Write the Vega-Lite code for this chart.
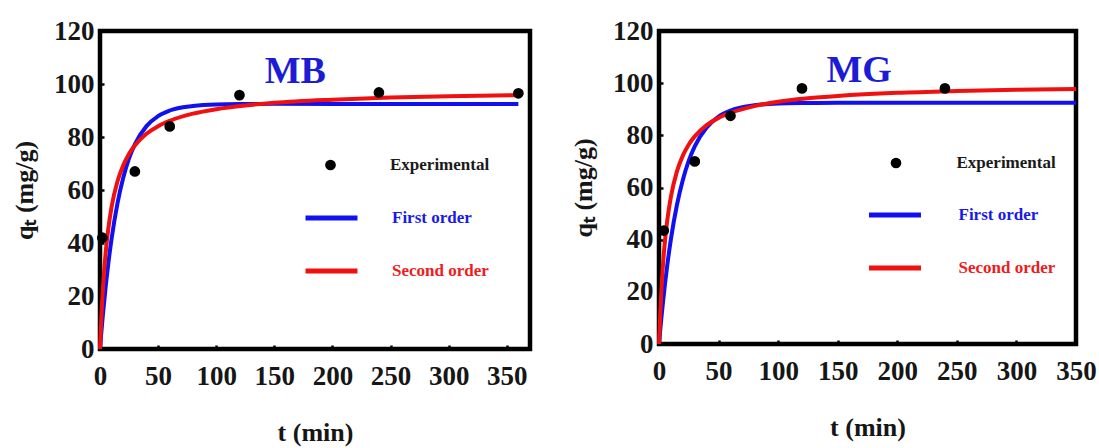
{
  "$schema": "https://vega.github.io/schema/vega-lite/v6.json",
  "background": "white",
  "padding": {"left": 9, "top": 14, "right": 5, "bottom": 0},
  "spacing": 35,
  "datasets": {
    "mb_exp": [
      {"t": 2, "q": 42, "series": "Experimental"},
      {"t": 30, "q": 67, "series": "Experimental"},
      {"t": 60, "q": 84, "series": "Experimental"},
      {"t": 120, "q": 95.8, "series": "Experimental"},
      {"t": 240, "q": 96.8, "series": "Experimental"},
      {"t": 360, "q": 96.5, "series": "Experimental"}
    ],
    "mb_fit": [
      {"t": 0, "q": 0, "series": "First order"},
      {"t": 1, "q": 5.4, "series": "First order"},
      {"t": 2, "q": 10.5, "series": "First order"},
      {"t": 3, "q": 15.2, "series": "First order"},
      {"t": 5, "q": 24.0, "series": "First order"},
      {"t": 7, "q": 31.7, "series": "First order"},
      {"t": 10, "q": 41.7, "series": "First order"},
      {"t": 15, "q": 54.9, "series": "First order"},
      {"t": 20, "q": 64.6, "series": "First order"},
      {"t": 25, "q": 71.9, "series": "First order"},
      {"t": 30, "q": 77.2, "series": "First order"},
      {"t": 40, "q": 84.1, "series": "First order"},
      {"t": 50, "q": 87.9, "series": "First order"},
      {"t": 60, "q": 90.0, "series": "First order"},
      {"t": 80, "q": 91.7, "series": "First order"},
      {"t": 100, "q": 92.3, "series": "First order"},
      {"t": 125, "q": 92.45, "series": "First order"},
      {"t": 150, "q": 92.5, "series": "First order"},
      {"t": 200, "q": 92.5, "series": "First order"},
      {"t": 250, "q": 92.5, "series": "First order"},
      {"t": 300, "q": 92.5, "series": "First order"},
      {"t": 360, "q": 92.5, "series": "First order"},
      {"t": 0, "q": 0, "series": "Second order"},
      {"t": 1, "q": 10.6, "series": "Second order"},
      {"t": 2, "q": 19.1, "series": "Second order"},
      {"t": 3, "q": 26.1, "series": "Second order"},
      {"t": 5, "q": 36.9, "series": "Second order"},
      {"t": 7, "q": 44.9, "series": "Second order"},
      {"t": 10, "q": 53.7, "series": "Second order"},
      {"t": 15, "q": 63.2, "series": "Second order"},
      {"t": 20, "q": 69.3, "series": "Second order"},
      {"t": 25, "q": 73.7, "series": "Second order"},
      {"t": 30, "q": 76.8, "series": "Second order"},
      {"t": 40, "q": 81.2, "series": "Second order"},
      {"t": 50, "q": 84.1, "series": "Second order"},
      {"t": 60, "q": 86.1, "series": "Second order"},
      {"t": 80, "q": 88.8, "series": "Second order"},
      {"t": 100, "q": 90.5, "series": "Second order"},
      {"t": 125, "q": 91.9, "series": "Second order"},
      {"t": 150, "q": 92.9, "series": "Second order"},
      {"t": 200, "q": 94.1, "series": "Second order"},
      {"t": 250, "q": 94.9, "series": "Second order"},
      {"t": 300, "q": 95.4, "series": "Second order"},
      {"t": 360, "q": 95.8, "series": "Second order"}
    ],
    "mg_exp": [
      {"t": 4, "q": 43.5, "series": "Experimental"},
      {"t": 30, "q": 70, "series": "Experimental"},
      {"t": 60, "q": 87.5, "series": "Experimental"},
      {"t": 120, "q": 98, "series": "Experimental"},
      {"t": 240, "q": 98, "series": "Experimental"}
    ],
    "mg_fit": [
      {"t": 0, "q": 0, "series": "First order"},
      {"t": 1, "q": 5.1, "series": "First order"},
      {"t": 2, "q": 10.0, "series": "First order"},
      {"t": 3, "q": 14.5, "series": "First order"},
      {"t": 5, "q": 22.9, "series": "First order"},
      {"t": 7, "q": 30.4, "series": "First order"},
      {"t": 10, "q": 40.2, "series": "First order"},
      {"t": 15, "q": 53.2, "series": "First order"},
      {"t": 20, "q": 62.9, "series": "First order"},
      {"t": 25, "q": 70.3, "series": "First order"},
      {"t": 30, "q": 75.8, "series": "First order"},
      {"t": 40, "q": 83.0, "series": "First order"},
      {"t": 50, "q": 87.2, "series": "First order"},
      {"t": 60, "q": 89.5, "series": "First order"},
      {"t": 80, "q": 91.5, "series": "First order"},
      {"t": 100, "q": 92.2, "series": "First order"},
      {"t": 125, "q": 92.4, "series": "First order"},
      {"t": 150, "q": 92.5, "series": "First order"},
      {"t": 200, "q": 92.5, "series": "First order"},
      {"t": 250, "q": 92.5, "series": "First order"},
      {"t": 300, "q": 92.5, "series": "First order"},
      {"t": 350, "q": 92.5, "series": "First order"},
      {"t": 0, "q": 0, "series": "Second order"},
      {"t": 1, "q": 11.5, "series": "Second order"},
      {"t": 2, "q": 20.6, "series": "Second order"},
      {"t": 3, "q": 28.1, "series": "Second order"},
      {"t": 5, "q": 39.4, "series": "Second order"},
      {"t": 7, "q": 47.6, "series": "Second order"},
      {"t": 10, "q": 56.5, "series": "Second order"},
      {"t": 15, "q": 66.1, "series": "Second order"},
      {"t": 20, "q": 72.2, "series": "Second order"},
      {"t": 25, "q": 76.5, "series": "Second order"},
      {"t": 30, "q": 79.6, "series": "Second order"},
      {"t": 40, "q": 83.9, "series": "Second order"},
      {"t": 50, "q": 86.7, "series": "Second order"},
      {"t": 60, "q": 88.6, "series": "Second order"},
      {"t": 80, "q": 91.2, "series": "Second order"},
      {"t": 100, "q": 92.9, "series": "Second order"},
      {"t": 125, "q": 94.2, "series": "Second order"},
      {"t": 150, "q": 95.1, "series": "Second order"},
      {"t": 200, "q": 96.3, "series": "Second order"},
      {"t": 250, "q": 97.0, "series": "Second order"},
      {"t": 300, "q": 97.5, "series": "Second order"},
      {"t": 350, "q": 97.8, "series": "Second order"}
    ]
  },
  "config": {
    "font": "Liberation Serif",
    "view": {"stroke": "black", "strokeWidth": 4.5},
    "axis": {
      "grid": false,
      "domain": false,
      "labelFont": "Liberation Serif",
      "labelFontWeight": "bold",
      "labelFontSize": 27,
      "labelColor": "#161616",
      "labelOverlap": false,
      "labelFlush": false,
      "titleFont": "Liberation Serif",
      "titleFontWeight": "bold",
      "titleFontSize": 26,
      "titleColor": "#161616",
      "tickColor": "black",
      "tickSize": -4,
      "tickWidth": 2.5
    },
    "axisX": {"labelPadding": 18, "titlePadding": 30},
    "axisY": {"labelPadding": 10, "titlePadding": 16},
    "legend": {
      "orient": "none",
      "title": null,
      "labelFont": "Liberation Serif",
      "labelFontWeight": "bold",
      "labelFontSize": 17,
      "rowPadding": 14,
      "symbolStrokeWidth": 5,
      "labelColor": {"expr": "datum.label == 'First order' ? '#1a1ae6' : datum.label == 'Second order' ? '#ee1c1c' : '#1a1a1a'"}
    }
  },
  "hconcat": [
    {
      "width": 430,
      "height": 318,
      "layer": [
        {
          "data": {"name": "mb_fit"},
          "mark": {"type": "line", "strokeWidth": 4, "interpolate": "monotone"},
          "encoding": {
            "x": {"field": "t", "type": "quantitative", "scale": {"domain": [0, 370], "nice": false}, "axis": {"values": [0, 50, 100, 150, 200, 250, 300, 350], "title": "t (min)"}},
            "y": {"field": "q", "type": "quantitative", "scale": {"domain": [0, 120], "nice": false}, "axis": {"values": [0, 20, 40, 60, 80, 100, 120], "title": "qₜ (mg/g)"}},
            "color": {"field": "series", "type": "nominal", "scale": {"domain": ["First order", "Second order"], "range": ["#1010f0", "#f01010"]}, "legend": {"legendX": 203, "legendY": 158.5, "symbolSize": 2700, "labelOffset": 32}}
          }
        },
        {
          "data": {"name": "mb_exp"},
          "mark": {"type": "point", "filled": true, "size": 115, "color": "black", "opacity": 1},
          "encoding": {
            "x": {"field": "t", "type": "quantitative"},
            "y": {"field": "q", "type": "quantitative"},
            "shape": {"field": "series", "type": "nominal", "scale": {"domain": ["Experimental"], "range": ["circle"]}, "legend": {"legendX": 222, "legendY": 125.5, "symbolSize": 115, "symbolStrokeWidth": 0, "symbolFillColor": "black", "labelOffset": 51}}
          }
        },
        {
          "data": {"values": [{"label": "MB"}]},
          "mark": {"type": "text", "font": "Liberation Serif", "fontWeight": "bold", "fontSize": 38, "color": "#1c1cd6", "baseline": "alphabetic", "align": "center"},
          "encoding": {"x": {"datum": 168}, "y": {"datum": 100.5}, "text": {"field": "label"}}
        }
      ]
    },
    {
      "width": 417,
      "height": 313,
      "layer": [
        {
          "data": {"name": "mg_fit"},
          "mark": {"type": "line", "strokeWidth": 4, "interpolate": "monotone"},
          "encoding": {
            "x": {"field": "t", "type": "quantitative", "scale": {"domain": [0, 350], "nice": false}, "axis": {"values": [0, 50, 100, 150, 200, 250, 300, 350], "title": "t (min)"}},
            "y": {"field": "q", "type": "quantitative", "scale": {"domain": [0, 120], "nice": false}, "axis": {"values": [0, 20, 40, 60, 80, 100, 120], "title": "qₜ (mg/g)"}},
            "color": {"field": "series", "type": "nominal", "scale": {"domain": ["First order", "Second order"], "range": ["#1010f0", "#f01010"]}, "legend": {"legendX": 207.5, "legendY": 155.5, "symbolSize": 2700, "labelOffset": 35}}
          }
        },
        {
          "data": {"name": "mg_exp"},
          "mark": {"type": "point", "filled": true, "size": 115, "color": "black", "opacity": 1},
          "encoding": {
            "x": {"field": "t", "type": "quantitative"},
            "y": {"field": "q", "type": "quantitative"},
            "shape": {"field": "series", "type": "nominal", "scale": {"domain": ["Experimental"], "range": ["circle"]}, "legend": {"legendX": 228.5, "legendY": 123.5, "symbolSize": 115, "symbolStrokeWidth": 0, "symbolFillColor": "black", "labelOffset": 52}}
          }
        },
        {
          "data": {"values": [{"label": "MG"}]},
          "mark": {"type": "text", "font": "Liberation Serif", "fontWeight": "bold", "fontSize": 38, "color": "#1c1cd6", "baseline": "alphabetic", "align": "center"},
          "encoding": {"x": {"datum": 168}, "y": {"datum": 100.5}, "text": {"field": "label"}}
        }
      ]
    }
  ],
  "resolve": {"scale": {"color": "independent", "shape": "independent"}, "legend": {"color": "independent", "shape": "independent"}}
}
